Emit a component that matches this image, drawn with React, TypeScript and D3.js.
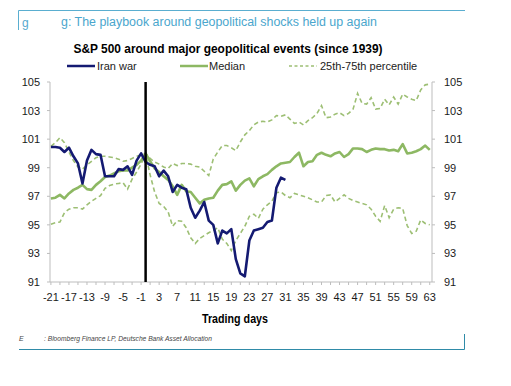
import * as d3 from "d3";
import React, { useRef, useEffect } from "react";

const width = 511;
const height = 386;
const margin = { top: 82, right: 79, bottom: 104, left: 50 };

// trading days -21 .. 63
const days: number[] = d3.range(-21, 64);

const iranWar: number[] = [
  100.45, 100.45, 100.4, 100.1, 100.4, 99.8, 99.3, 97.9, 99.5, 100.25, 99.95,
  99.9, 98.4, 98.4, 98.4, 98.9, 98.85, 99.1, 98.5, 99.5, 100.0,
  99.4, 99.2, 99.1, 98.4, 98.8, 98.4, 97.3, 97.8, 97.6, 97.5, 96.2, 95.5, 96.0,
  96.6, 95.3, 95.0, 93.7, 94.6, 94.4, 94.7, 92.6, 91.6, 91.4, 93.9, 94.6, 94.7,
  94.8, 95.2, 95.3, 97.6, 98.3, 98.15,
];

const median: number[] = [
  96.85, 96.9, 97.1, 96.85, 97.2, 97.45, 97.6, 97.8, 97.5, 97.45, 97.8, 98.05,
  98.35, 98.45, 98.6, 98.75, 98.8, 98.8, 99.0, 99.2, 99.5, 100.0,
  99.45, 98.95, 98.7, 98.4, 98.15, 97.7, 97.1, 97.8, 97.35, 97.3, 96.9, 96.5,
  96.75, 96.85, 96.9, 97.4, 97.8, 97.85, 98.05, 97.4, 97.8, 98.1, 98.25, 97.7,
  98.2, 98.4, 98.55, 98.85, 99.1, 99.3, 99.35, 99.4, 99.75, 100.05, 99.1, 99.4,
  99.45, 99.9, 100.05, 99.9, 99.8, 100.0, 100.1, 99.75, 99.95, 100.35, 100.35,
  100.3, 100.1, 100.25, 100.35, 100.3, 100.3, 100.2, 100.25, 100.15, 100.65,
  100.0, 100.05, 100.15, 100.3, 100.55, 100.25,
];

const pct75: number[] = [
  100.5, 100.75, 101.1, 100.75, 100.1, 99.5, 99.05, 98.9, 99.2, 99.45, 99.7,
  99.8, 99.8, 99.75, 99.7, 99.6, 99.45, 99.5, 99.65, 99.8, 99.9, 100.0,
  99.65, 99.4, 99.25, 99.05, 98.95, 99.3, 99.15, 99.3, 99.3, 99.25, 99.1, 99.05,
  98.75, 98.45, 99.6, 100.1, 100.55, 100.55, 100.4, 100.2, 100.8, 101.3, 101.6,
  102.0, 102.2, 102.25, 102.2, 102.35, 102.65, 102.6, 102.7, 102.4, 102.1, 102.2,
  102.0, 102.3, 102.5, 102.8, 103.35, 102.5, 102.55, 102.75, 102.85, 102.65,
  102.8, 103.1, 104.2, 103.5, 103.45, 103.9, 103.1, 103.15, 103.8, 103.4, 103.95,
  103.45, 104.15, 103.95, 103.8, 103.7, 104.45, 104.8, 104.85,
];

const pct25: number[] = [
  95.05, 95.15, 95.2, 95.85, 96.1, 96.2, 96.2, 96.1, 96.4, 96.65, 96.85, 97.05,
  97.55, 97.75, 97.85, 97.9, 97.95, 97.5, 98.2, 98.7, 99.25, 100.0,
  98.5, 97.3, 96.5, 96.3, 95.9, 94.9, 95.3, 95.25, 94.8, 94.1, 93.7, 94.05,
  94.25, 94.45, 94.6, 94.8, 94.0, 93.7, 93.2, 93.9, 94.4, 94.9, 95.6, 95.75,
  95.45, 96.1, 96.4, 96.65, 97.25, 97.3, 97.05, 96.9, 97.2, 97.1, 97.0, 96.9,
  96.75, 96.6, 96.6, 97.05, 97.1, 96.6, 96.85, 97.1, 96.85, 96.7, 96.6, 96.5,
  96.4, 96.1, 95.6, 95.25, 96.35, 95.5, 96.1, 96.2, 96.15, 94.95, 94.4, 94.55,
  95.35, 95.1, 95.0,
];

const yTicks: number[] = [91, 93, 95, 97, 99, 101, 103, 105];
const xTickLabels: number[] = d3.range(-21, 64, 4);

const navy = "#141a72";
const green = "#8db863";
const dashGreen = "#9dbf74";
const teal = "#2f8ba8";
const font = "Arial, 'Liberation Sans', sans-serif";

export default function App() {
  const ref = useRef<SVGSVGElement>(null);

  useEffect(() => {
    if (!ref.current) return;
    const svg = d3.select(ref.current);
    svg.selectAll("*").remove();

    const x = d3.scaleLinear()
      .domain([-21.2, 63.5])
      .range([margin.left, width - margin.right]);
    const y = d3.scaleLinear()
      .domain([91, 105])
      .range([height - margin.bottom, margin.top]);

    const x0 = margin.left, x1 = width - margin.right;
    const y0 = height - margin.bottom, y1 = margin.top;

    // frame of the exhibit
    svg.append("path")
      .attr("d", `M18.5,30 V10.5 H465`)
      .attr("fill", "none").attr("stroke", "#5aaed0").attr("stroke-width", 1);
    svg.append("text").attr("x", 22).attr("y", 27).text("g")
      .attr("fill", "#55a9cf").style("font-size", "12px").style("font-family", font);
    svg.append("text").attr("x", 61).attr("y", 26)
      .text("g: The playbook around geopolitical shocks held up again")
      .attr("fill", "#4aa6cd").style("font-size", "12px").style("font-family", font)
      .attr("textLength", 316).attr("lengthAdjust", "spacingAndGlyphs");

    svg.append("text").attr("x", 228).attr("y", 53).attr("text-anchor", "middle")
      .text("S&P 500 around major geopolitical events (since 1939)")
      .style("font-size", "12.5px").style("font-weight", "bold").style("font-family", font)
      .attr("textLength", 309).attr("lengthAdjust", "spacingAndGlyphs");

    // legend
    const legend = [
      { label: "Iran war", color: navy, dash: null as string | null, w: 2.5, lx: 67, tx: 97 },
      { label: "Median", color: green, dash: null, w: 2.5, lx: 180, tx: 209 },
      { label: "25th-75th percentile", color: dashGreen, dash: "3,2.5", w: 1.5, lx: 289, tx: 320 },
    ];
    const lg = svg.append("g");
    lg.selectAll("line").data(legend).join("line")
      .attr("x1", d => d.lx).attr("x2", d => d.lx + 28)
      .attr("y1", 66).attr("y2", 66)
      .attr("stroke", d => d.color).attr("stroke-width", d => d.w)
      .attr("stroke-dasharray", d => d.dash);
    lg.selectAll("text").data(legend).join("text")
      .attr("x", d => d.tx).attr("y", 70).text(d => d.label)
      .style("font-size", "11px").style("font-family", font).attr("fill", "#222");

    // axes lines
    const axisColor = "#bdbdbd";
    svg.append("path")
      .attr("d", `M${x0},${y1} V${y0} H${x1} V${y1}`)
      .attr("fill", "none").attr("stroke", axisColor).attr("stroke-width", 1);

    svg.append("g").selectAll("line").data(yTicks).join("line")
      .attr("x1", x0 - 3).attr("x2", x0).attr("y1", d => y(d)).attr("y2", d => y(d))
      .attr("stroke", axisColor);
    svg.append("g").selectAll("line").data(yTicks).join("line")
      .attr("x1", x1).attr("x2", x1 + 3).attr("y1", d => y(d)).attr("y2", d => y(d))
      .attr("stroke", axisColor);

    svg.append("g").selectAll("text").data(yTicks).join("text")
      .attr("x", 40).attr("y", d => y(d) + 4).attr("text-anchor", "end")
      .text(d => d).style("font-size", "11px").style("font-family", font).attr("fill", "#1a1a1a");
    svg.append("g").selectAll("text").data(yTicks).join("text")
      .attr("x", 444).attr("y", d => y(d) + 4)
      .text(d => d).style("font-size", "11px").style("font-family", font).attr("fill", "#1a1a1a");

    svg.append("g").selectAll("line").data(d3.range(-21, 64, 2)).join("line")
      .attr("x1", d => x(d)).attr("x2", d => x(d))
      .attr("y1", y0).attr("y2", y0 + 3)
      .attr("stroke", axisColor);
    svg.append("g").selectAll("text").data(xTickLabels).join("text")
      .attr("x", d => x(d)).attr("y", y0 + 19).attr("text-anchor", "middle")
      .text(d => d).style("font-size", "11px").style("font-family", font).attr("fill", "#1a1a1a");

    svg.append("text").attr("x", 235).attr("y", 323).attr("text-anchor", "middle")
      .text("Trading days")
      .style("font-size", "12.5px").style("font-weight", "bold").style("font-family", font)
      .attr("textLength", 66).attr("lengthAdjust", "spacingAndGlyphs");

    // series
    const line = (vals: number[]) =>
      d3.line<number>().x((_, i) => x(days[i])).y(d => y(d))(vals);

    svg.append("path").attr("d", line(pct75)).attr("fill", "none")
      .attr("stroke", dashGreen).attr("stroke-width", 1.6).attr("stroke-dasharray", "4.5,3");
    svg.append("path").attr("d", line(pct25)).attr("fill", "none")
      .attr("stroke", dashGreen).attr("stroke-width", 1.6).attr("stroke-dasharray", "4.5,3");
    svg.append("path").attr("d", line(median)).attr("fill", "none")
      .attr("stroke", green).attr("stroke-width", 2.6).attr("stroke-linejoin", "round");
    svg.append("path").attr("d", line(iranWar)).attr("fill", "none")
      .attr("stroke", navy).attr("stroke-width", 2.6).attr("stroke-linejoin", "round");

    // event day marker
    svg.append("line")
      .attr("x1", x(0)).attr("x2", x(0)).attr("y1", y1).attr("y2", y0)
      .attr("stroke", "#000").attr("stroke-width", 2.5);

    // footer
    svg.append("text").attr("x", 19).attr("y", 341).text("E")
      .style("font-size", "7px").style("font-style", "italic").style("font-family", font).attr("fill", "#444");
    svg.append("text").attr("x", 44).attr("y", 341)
      .text(": Bloomberg Finance LP, Deutsche Bank Asset Allocation")
      .style("font-size", "7px").style("font-style", "italic").style("font-family", font).attr("fill", "#444")
      .attr("textLength", 168).attr("lengthAdjust", "spacingAndGlyphs");
    svg.append("path")
      .attr("d", `M19,349.5 H464.5 V334`)
      .attr("fill", "none").attr("stroke", teal).attr("stroke-width", 1);
  }, []);

  return (
    <svg
      ref={ref}
      width={width}
      height={height}
      style={{ position: "absolute", left: 0, top: 0, background: "#fff" }}
    />
  );
}
